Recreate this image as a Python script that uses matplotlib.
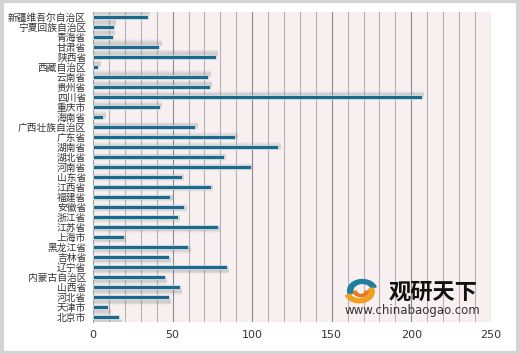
import matplotlib
matplotlib.use('Agg')
import matplotlib.pyplot as plt
from matplotlib.patches import Rectangle, Wedge
import numpy as np

plt.rcParams['font.family'] = ['Noto Sans CJK SC', 'DejaVu Sans']

# provinces, bottom to top as drawn
provinces = [
    '北京市', '天津市', '河北省', '山西省', '内蒙古自治区', '辽宁省', '吉林省',
    '黑龙江省', '上海市', '江苏省', '浙江省', '安徽省', '福建省', '江西省',
    '山东省', '河南省', '湖北省', '湖南省', '广东省', '广西壮族自治区', '海南省',
    '重庆市', '四川省', '贵州省', '云南省', '西藏自治区', '陕西省', '甘肃省',
    '青海省', '宁夏回族自治区', '新疆维吾尔自治区',
]
values = [
    16.6, 9.5, 47.5, 54.4, 45.0, 84.0, 47.5,
    59.9, 19.3, 78.3, 53.3, 57.3, 48.5, 74.1,
    55.7, 99.3, 82.3, 116.4, 89.5, 64.3, 6.5,
    42.0, 206.5, 73.5, 72.5, 3.2, 77.1, 41.6,
    12.4, 13.2, 34.5,
]
x_ticks = [0, 50, 100, 150, 200, 250]

BAR_COLOR = '#1b6a8c'

fig = plt.figure(figsize=(5.2, 3.54), dpi=100)
fig.patch.set_facecolor('white')
# light grey frame round the picture
fig.patches.append(Rectangle((0.003, 0.004), 0.994, 0.992, transform=fig.transFigure,
                             fill=False, edgecolor='#d4d4d4', linewidth=3))

ax = fig.add_axes([0.179, 0.090, 0.765, 0.876])
ax.set_facecolor('#f8f0f0')

y = np.arange(len(provinces))
n_mid = (len(provinces) - 1) / 2

# soft "perspective" shadow behind every bar
for i, v in enumerate(values):
    off = 0.48 * (i - n_mid) / n_mid
    for h, a in [(0.8, 0.05), (0.62, 0.07), (0.46, 0.09), (0.32, 0.10)]:
        ax.barh(i + off, v + 1.5, height=h, left=0, color='#7a7a7a', alpha=a,
                linewidth=0, zorder=2)

ax.barh(y, values, height=0.42, color=BAR_COLOR, edgecolor='#e8eef2',
        linewidth=0.5, zorder=3)

ax.set_xlim(0, 250)
ax.set_ylim(-0.5, len(provinces) - 0.5)

for gx in range(10, 251, 10):
    col = '#8a8a8a' if gx % 50 == 0 else '#b8b2b2'
    ax.axvline(gx, color=col, linewidth=0.8, zorder=1)

ax.set_xticks(x_ticks)
ax.set_xticklabels([str(t) for t in x_ticks], fontsize=8, color='#333333',
                   family=['DejaVu Sans'])
ax.set_yticks(y)
ax.set_yticklabels(provinces, fontsize=7, color='#333333')
ax.tick_params(axis='both', length=0)
ax.tick_params(axis='y', pad=5)
ax.tick_params(axis='x', pad=6)

for s in ['top', 'right', 'bottom']:
    ax.spines[s].set_visible(False)
ax.spines['left'].set_color('#a0a0a0')
ax.spines['left'].set_linewidth(0.8)

# watermark
fig.text(0.748, 0.175, '观研天下', fontsize=16, fontweight='bold', color='#111111',
         ha='left', va='center')
fig.text(0.663, 0.124, 'www.chinabaogao.com', fontsize=8.5, color='#333333',
         ha='left', va='center', family=['DejaVu Sans'])
lax = fig.add_axes([0.660, 0.140, 0.068, 0.075])
lax.set_xlim(-1.2, 1.2)
lax.set_ylim(-1.2, 1.2)
lax.axis('off')
lax.add_patch(Wedge((0.1, 0.05), 1.0, 20, 200, width=0.35, color='#1f7fa0'))
lax.add_patch(Wedge((-0.1, -0.05), 1.0, 200, 380, width=0.35, color='#f0a020'))
lax.add_patch(Wedge((0.0, 0.0), 0.5, 180, 360, width=0.2, color='#e87818'))

fig.savefig('out.png', dpi=100)
